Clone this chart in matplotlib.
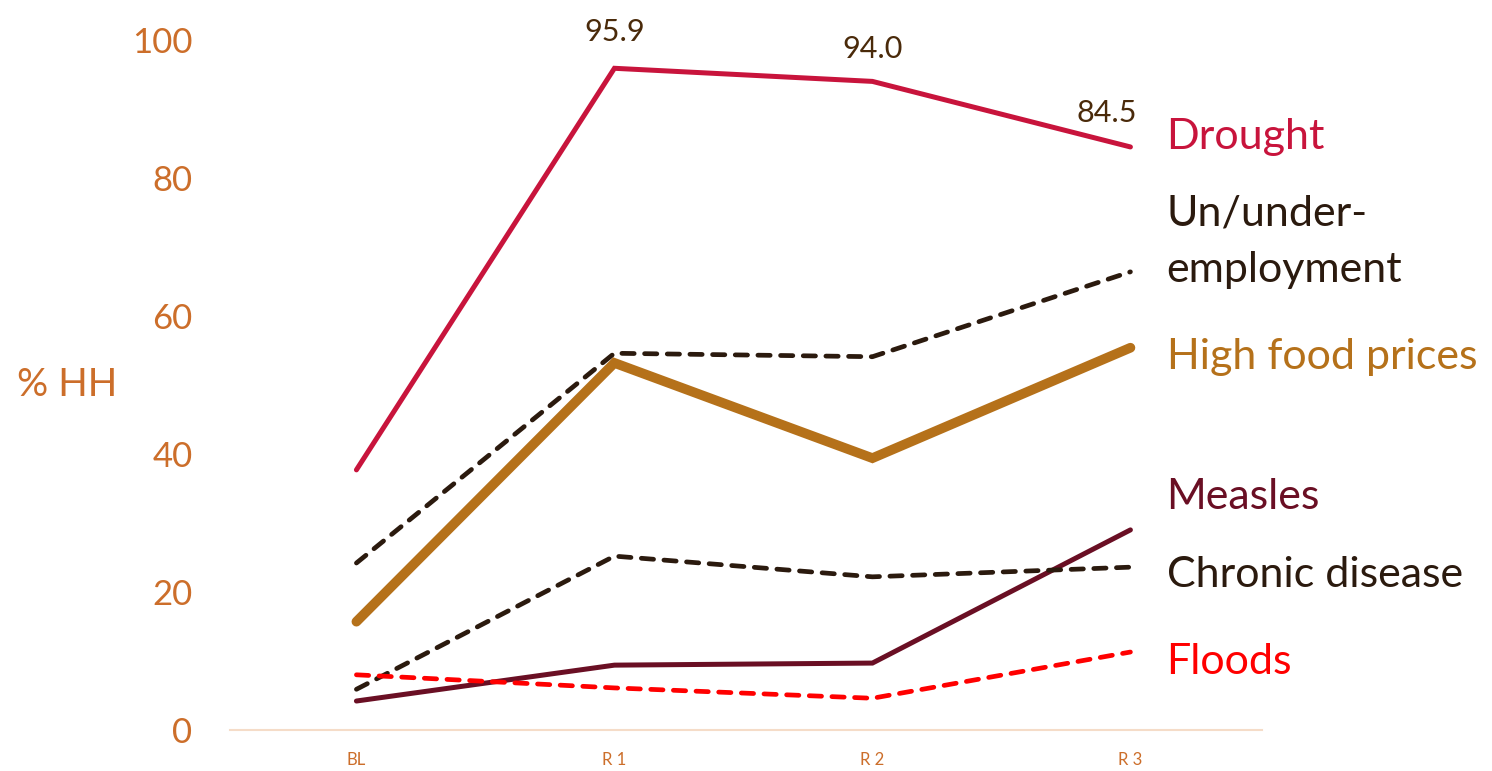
# Shocks reported by households across survey rounds
import matplotlib
matplotlib.use("Agg")
import matplotlib.pyplot as plt

plt.rcParams['font.family'] = ['Lato', 'DejaVu Sans']

rounds = ['BL', 'R 1', 'R 2', 'R 3']

drought = [37.7, 95.9, 94.0, 84.5]
unemployment = [24.2, 54.6, 54.1, 66.4]
food_prices = [15.7, 53.2, 39.4, 55.4]
measles = [4.2, 9.4, 9.7, 29.0]
chronic = [5.9, 25.2, 22.2, 23.6]
floods = [8.0, 6.1, 4.6, 11.3]

orange = '#CC6E2A'
dark = '#2B1A0E'

fig = plt.figure(figsize=(14.92, 7.71), dpi=100)
ax = fig.add_axes([230 / 1492, 41 / 771, 1032 / 1492, 690 / 771])

x = range(len(rounds))
ax.plot(x, drought, color='#C8143C', lw=3.6, solid_capstyle='round', solid_joinstyle='miter')
ax.plot(x, unemployment, color=dark, lw=3.4, dashes=(2.6, 2.2), dash_capstyle='round')
ax.plot(x, food_prices, color='#B5711A', lw=7, solid_capstyle='round', solid_joinstyle='miter')
ax.plot(x, measles, color='#6A0F24', lw=3.6, solid_capstyle='round', solid_joinstyle='miter')
ax.plot(x, chronic, color=dark, lw=3.4, dashes=(2.6, 2.2), dash_capstyle='round')
ax.plot(x, floods, color='#FF0000', lw=3.4, dashes=(2.6, 2.2), dash_capstyle='round')

# value labels on drought
offsets = [(0, 20), (0, 17), (-17, 18)]
for i, dx in zip([1, 2, 3], offsets):
    ax.annotate(f'{drought[i]:.1f}', (i, drought[i]), xytext=dx, textcoords='offset points',
                ha='center', va='baseline', fontsize=22, color='#4A2A0A')

# series names on the right
lx = 3.14
names = [('Drought', 86.0, '#C8143C'),
         ('Un/under-\nemployment', 70.7, dark),
         ('High food prices', 54.0, '#B5711A'),
         ('Measles', 33.8, '#6A0F24'),
         ('Chronic disease', 22.5, dark),
         ('Floods', 9.9, '#FF0000')]
for txt, y, c in names:
    ax.text(lx, y, txt, color=c, fontsize=31, va='center', ha='left',
            linespacing=1.6, clip_on=False)

ax.set_xlim(-0.49, 3.51)
ax.set_ylim(0, 100)
ax.set_xticks(list(x))
ax.set_xticklabels(rounds, color=orange, fontsize=12)
ax.set_yticks(range(0, 101, 20))
ax.set_yticklabels([str(v) for v in range(0, 101, 20)], color=orange, fontsize=25)
ax.tick_params(axis='y', length=0, pad=27)
ax.tick_params(axis='x', length=0, pad=16)

for s in ['top', 'right', 'left']:
    ax.spines[s].set_visible(False)
ax.spines['bottom'].set_color('#F5DCC8')
ax.spines['bottom'].set_linewidth(1.5)

fig.text(17 / 1492, 1 - 385 / 771, '% HH', color=orange, fontsize=28, va='center', ha='left')

fig.savefig('out.png', dpi=100)
